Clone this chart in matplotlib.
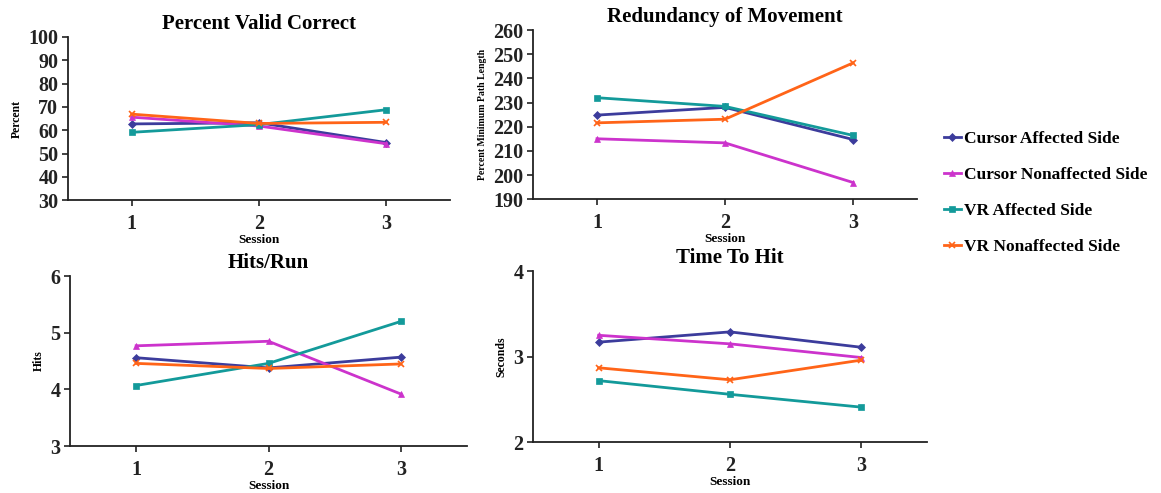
import matplotlib.pyplot as plt

plt.rcParams["font.family"] = ["Liberation Serif", "DejaVu Serif"]
plt.rcParams["font.weight"] = "bold"

sessions = [1, 2, 3]
series_names = ["Cursor Affected Side", "Cursor Nonaffected Side",
                "VR Affected Side", "VR Nonaffected Side"]
colors = ["#3C3C9C", "#CC33CC", "#139A9A", "#FF6418"]
markers = ["D", "^", "s", "x"]
msizes = [4, 5, 5, 5]

# Percent Valid Correct
pvc_cursor_aff = [62.7, 63.2, 54.7]
pvc_cursor_non = [65.6, 61.8, 54.2]
pvc_vr_aff = [59.1, 62.4, 68.8]
pvc_vr_non = [66.9, 62.9, 63.4]

# Redundancy of Movement
rom_cursor_aff = [224.8, 228.0, 214.7]
rom_cursor_non = [215.0, 213.3, 196.9]
rom_vr_aff = [232.0, 228.4, 216.4]
rom_vr_non = [221.6, 223.1, 246.4]

# Hits/Run
hr_cursor_aff = [4.56, 4.38, 4.57]
hr_cursor_non = [4.77, 4.85, 3.92]
hr_vr_aff = [4.07, 4.46, 5.20]
hr_vr_non = [4.46, 4.37, 4.45]

# Time To Hit
tth_cursor_aff = [3.17, 3.29, 3.11]
tth_cursor_non = [3.25, 3.15, 2.99]
tth_vr_aff = [2.72, 2.56, 2.41]
tth_vr_non = [2.87, 2.73, 2.96]

panels = [
    ("Percent Valid Correct", "Percent",
     [pvc_cursor_aff, pvc_cursor_non, pvc_vr_aff, pvc_vr_non],
     (30, 100), list(range(30, 101, 10)), 8.5,
     [68 / 1161, 0.594, 382 / 1161, 0.331]),
    ("Redundancy of Movement", "Percent Minimum Path Length",
     [rom_cursor_aff, rom_cursor_non, rom_vr_aff, rom_vr_non],
     (190, 260), list(range(190, 261, 10)), 7,
     [533 / 1161, 0.596, 384 / 1161, 0.343]),
    ("Hits/Run", "Hits",
     [hr_cursor_aff, hr_cursor_non, hr_vr_aff, hr_vr_non],
     (3, 6), [3, 4, 5, 6], 8.5,
     [70 / 1161, 0.095, 397 / 1161, 0.345]),
    ("Time To Hit", "Seconds",
     [tth_cursor_aff, tth_cursor_non, tth_vr_aff, tth_vr_non],
     (2, 4), [2, 3, 4], 8.5,
     [533 / 1161, 0.103, 394 / 1161, 0.347]),
]

fig = plt.figure(figsize=(11.61, 4.93), dpi=100)

for title, ylabel, data, ylim, yticks, ylsize, rect in panels:
    ax = fig.add_axes(rect)
    for vals, c, m, ms, name in zip(data, colors, markers, msizes, series_names):
        ax.plot(sessions, vals, color=c, marker=m, markersize=ms, lw=2,
                markeredgewidth=1.2 if m == "x" else 0.5, label=name)
    ax.set_xlim(0.5, 3.5)
    ax.set_ylim(*ylim)
    ax.set_yticks(yticks)
    ax.set_xticks(sessions)
    ax.spines["top"].set_visible(False)
    ax.spines["right"].set_visible(False)
    for s in ("left", "bottom"):
        ax.spines[s].set_linewidth(1.3)
        ax.spines[s].set_color("#222222")
    ax.tick_params(axis="both", labelsize=14.5, width=1.2, length=4, colors="#222222")
    ax.tick_params(axis="x", pad=6)
    ax.tick_params(axis="y", pad=3)
    for lab in ax.get_xticklabels() + ax.get_yticklabels():
        lab.set_fontweight("bold")
    ax.set_title(title, fontsize=15, fontweight="bold", pad=6)
    ax.set_ylabel(ylabel, fontsize=ylsize, fontweight="bold", labelpad=4)
    ax.set_xlabel("Session", fontsize=9.5, fontweight="bold", labelpad=0)

handles, labels = ax.get_legend_handles_labels()
fig.legend(handles, labels, loc="upper left", bbox_to_anchor=(928 / 1161, 1 - 115 / 493),
           frameon=False, handlelength=1.0, handletextpad=0.2,
           labelspacing=1.15, prop={"weight": "bold", "size": 12.5})

fig.savefig("out.png", dpi=100)
